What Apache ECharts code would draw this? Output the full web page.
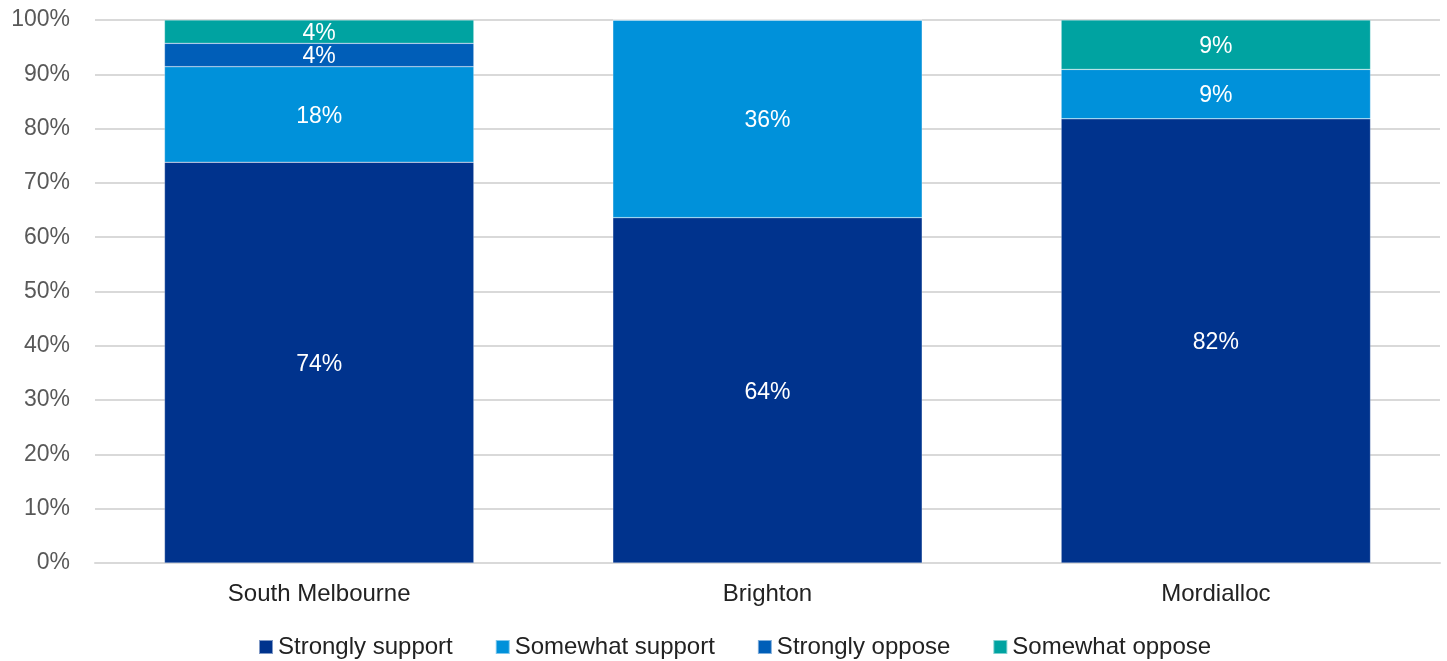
<!DOCTYPE html>
<html><head><meta charset="utf-8">
<script src="https://cdn.jsdelivr.net/npm/echarts@6/dist/echarts.min.js"></script>
<style>html,body{margin:0;padding:0;background:#fff}#c{width:1447px;height:661px}</style>
</head><body><div id="c"></div>
<script>
const categories = ['South Melbourne', 'Brighton', 'Mordialloc'];
const seriesNames = ['Strongly support', 'Somewhat support', 'Strongly oppose', 'Somewhat oppose'];
const stronglySupport = [73.8, 63.6, 81.8];
const somewhatSupport = [17.6, 36.4, 9.1];
const stronglyOppose = [4.3, 0, 0];
const somewhatOppose = [4.3, 0, 9.1];
const colors = ['#00338D', '#0091DA', '#005EB8', '#00A3A1'];
const yTicks = [0,10,20,30,40,50,60,70,80,90,100];

const FONT = '"Liberation Sans", Arial, sans-serif';
const values = [stronglySupport, somewhatSupport, stronglyOppose, somewhatOppose];
const chart = echarts.init(document.getElementById('c'));
chart.setOption({
  animation: false,
  textStyle: {fontFamily: FONT},
  grid: {left: 95, right: 7, top: 20, bottom: 98},
  legend: {
    top: 630, left: 253,
    itemWidth: 14, itemHeight: 14, itemGap: 42,
    icon: 'rect',
    textStyle: {fontSize: 24, color: '#222', fontFamily: FONT},
    data: seriesNames
  },
  xAxis: {
    type: 'category', data: categories,
    axisLine: {lineStyle: {color: '#d9d9d9', width: 2}},
    axisTick: {show: false},
    axisLabel: {fontSize: 24, color: '#222', margin: 19, fontFamily: FONT}
  },
  yAxis: {
    type: 'value', min: 0, max: 100, interval: 10,
    axisLine: {show: false}, axisTick: {show: false},
    splitLine: {lineStyle: {color: '#d9d9d9', width: 2}},
    axisLabel: {fontSize: 23, color: '#595959', margin: 25, fontFamily: FONT,
      formatter: v => yTicks.includes(v) ? v + '%' : ''}
  },
  series: seriesNames.map((n, i) => ({
    name: n, type: 'bar', stack: 'total', barWidth: '69%',
    data: values[i],
    itemStyle: {color: colors[i], borderColor: 'rgba(255,255,255,0.5)', borderWidth: 0.5},
    label: {show: true, position: 'inside', offset: [0, 2], color: '#fff', fontSize: 23, fontFamily: FONT,
      formatter: p => p.value > 0 ? Math.round(p.value) + '%' : ''}
  }))
});
</script></body></html>
